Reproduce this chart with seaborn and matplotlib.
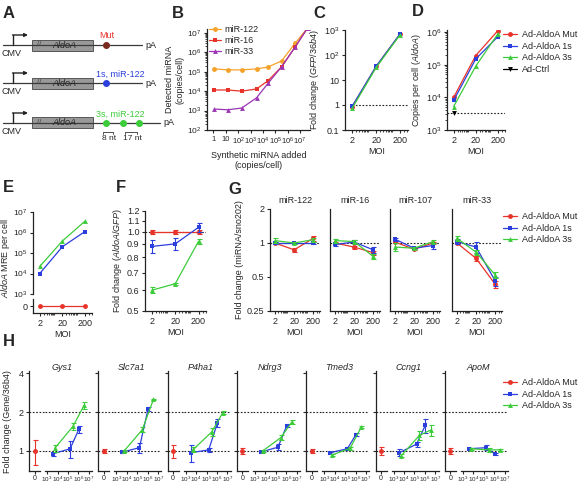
import matplotlib
matplotlib.use("Agg")
import numpy as np
import pandas as pd
import matplotlib.pyplot as plt
import seaborn as sns
from matplotlib.lines import Line2D
from matplotlib.patches import Rectangle
from matplotlib.ticker import NullFormatter, NullLocator

W, H = 578, 483

# ---- data ----
moi = [2, 20, 200]
groups = ["Ad-AldoA Mut", "Ad-AldoA 1s", "Ad-AldoA 3s"]

# B: synthetic miRNA titration
b_labels = ["miR-122", "miR-16", "miR-33"]
synthetic_added = [1.2, 14, 190, 3e3, 2.5e4, 3.2e5, 4e6, 4e7]
mir122_detected = [1.4e5, 1.25e5, 1.25e5, 1.4e5, 1.75e5, 3.6e5, 3.0e6, 1.8e7]
mir16_detected = [1.15e4, 1.15e4, 1.0e4, 1.3e4, 3.4e4, 1.8e5, 1.9e6, 1.8e7]
mir33_detected = [1.2e3, 1.1e3, 1.35e3, 4.5e3, 2.5e4, 1.8e5, 1.9e6, 1.8e7]
b_xticklabels = ["1", "10", "$10^2$", "$10^3$", "$10^4$", "$10^5$", "$10^6$", "$10^7$"]

# C: GFP/36b4 fold change
c_fold_mut = [0.85, 35, 700]
c_fold_1s = [0.9, 36, 720]
c_fold_3s = [0.75, 32, 660]

# D: AldoA copies per cell
d_copies_mut = [1.0e4, 1.9e5, 1.1e6]
d_copies_1s = [8.0e3, 1.5e5, 7.2e5]
d_copies_3s = [5.2e3, 9.0e4, 8.8e5]
d_copies_ctrl = [3.3e3]

# E: AldoA MRE per cell
e_mre_mut = [0, 0, 0]
e_mre_1s = [1.0e4, 2.0e5, 1.1e6]
e_mre_3s = [2.2e4, 3.8e5, 3.5e6]

# F: AldoA/GFP fold change
f_fold_mut = [1.0, 1.0, 1.0]
f_err_mut = [0.02, 0.02, 0.02]
f_fold_1s = [0.88, 0.90, 1.04]
f_err_1s = [0.05, 0.05, 0.04]
f_fold_3s = [0.60, 0.635, 0.92]
f_err_3s = [0.015, 0.005, 0.02]

# G: miRNA/sno202 fold change
g_mirs = ["miR-122", "miR-16", "miR-107", "miR-33"]
g_fold_mut = [[1.0, 0.87, 1.10], [1.0, 0.92, 0.82], [1.02, 0.88, 1.0], [1.0, 0.73, 0.43]]
g_err_mut = [[0.02, 0.04, 0.06], [0.02, 0.03, 0.03], [0.02, 0.02, 0.03], [0.03, 0.04, 0.03]]
g_fold_1s = [[1.0, 1.0, 1.0], [0.97, 1.02, 0.87], [1.08, 0.9, 0.95], [1.03, 0.92, 0.46]]
g_err_1s = [[0.03, 0.02, 0.02], [0.03, 0.04, 0.05], [0.03, 0.02, 0.06], [0.06, 0.1, 0.04]]
g_fold_3s = [[1.05, 1.0, 1.07], [1.05, 1.03, 0.76], [0.92, 0.9, 1.03], [1.1, 0.83, 0.52]]
g_err_3s = [[0.05, 0.02, 0.04], [0.04, 0.03, 0.04], [0.07, 0.02, 0.03], [0.05, 0.04, 0.03]]

# H: target gene/36b4 fold change vs MRE per cell
h_genes = ["Gys1", "Slc7a1", "P4ha1", "Ndrg3", "Tmed3", "Ccng1", "ApoM"]
h_mre_1s = [3.6e3, 1.6e5, 1.1e6]
h_mre_3s = [5.5e3, 3.0e5, 3.5e6]
h_fold_mut = [1.0, 1.0, 1.0, 1.0, 1.0, 1.0, 1.0]
h_err_mut = [0.22, 0.04, 0.12, 0.05, 0.03, 0.07, 0.05]
h_fold_1s = [[0.95, 1.04, 1.47], [0.98, 1.06, 2.12], [0.97, 1.02, 1.65], [0.98, 1.07, 1.57],
             [0.97, 1.04, 1.34], [0.97, 1.13, 1.58], [1.04, 1.06, 0.95]]
h_err_1s = [[0.04, 0.15, 0.1], [0.02, 0.1, 0.08], [0.15, 0.03, 0.12], [0.02, 0.06, 0.05],
            [0.02, 0.03, 0.03], [0.06, 0.05, 0.2], [0.02, 0.05, 0.02]]
h_fold_3s = [[1.05, 1.55, 2.25], [1.0, 1.46, 2.5], [1.03, 1.4, 1.97], [1.0, 1.27, 1.68],
             [0.93, 1.05, 1.53], [0.92, 1.32, 1.45], [1.04, 1.02, 1.02]]
h_err_3s = [[0.06, 0.1, 0.13], [0.02, 0.06, 0.03], [0.05, 0.1, 0.05], [0.02, 0.05, 0.06],
            [0.02, 0.03, 0.02], [0.02, 0.1, 0.15], [0.02, 0.03, 0.02]]

RED, BLUE, GREEN = "#e8332a", "#2b3fdc", "#3ccc3a"
colors = {"Ad-AldoA Mut": RED, "Ad-AldoA 1s": BLUE, "Ad-AldoA 3s": GREEN, "Ad-Ctrl": "black"}
markers = {"Ad-AldoA Mut": "o", "Ad-AldoA 1s": "s", "Ad-AldoA 3s": "^", "Ad-Ctrl": "v"}

sns.set_style("ticks")
plt.rcParams.update({
    "font.family": ["Liberation Sans", "DejaVu Sans"],
    "font.size": 6.5,
    "axes.linewidth": 0.9,
    "axes.edgecolor": "#222222",
    "xtick.major.size": 2.5, "ytick.major.size": 2.5,
    "xtick.minor.size": 1.3, "ytick.minor.size": 1.3,
    "xtick.major.width": 0.8, "ytick.major.width": 0.8,
    "xtick.minor.width": 0.6, "ytick.minor.width": 0.6,
    "xtick.major.pad": 1.5, "ytick.major.pad": 1.5,
    "xtick.labelsize": 6.5, "ytick.labelsize": 6.5,
    "axes.labelsize": 6.5, "axes.titlesize": 6.5,
    "axes.labelpad": 2,
    "mathtext.fontset": "custom",
    "mathtext.rm": "Liberation Sans",
    "mathtext.it": "Liberation Sans:italic",
    "mathtext.bf": "Liberation Sans:bold",
})

fig = plt.figure(figsize=(W / 100, H / 100), dpi=100)


def add_ax(l, t, r, b):
    ax = fig.add_axes([l / W, 1 - b / H, (r - l) / W, (b - t) / H])
    sns.despine(ax=ax)
    return ax


def draw(ax, x, y, color, marker, err=None, ms=3.5):
    df = pd.DataFrame({"x": x, "y": y})
    sns.lineplot(data=df, x="x", y="y", ax=ax, color=color, marker=marker, markersize=ms,
                 markeredgewidth=0, linewidth=0.9, legend=False, errorbar=None)
    if err is not None:
        ax.errorbar(x, y, yerr=err, fmt="none", ecolor=color, elinewidth=0.8,
                    capsize=1.8, capthick=0.8)
    ax.set_xlabel("")
    ax.set_ylabel("")


def moi_axis(ax, xlim=(1, 420)):
    ax.set_xlim(*xlim)
    ax.set_xticks(moi)
    ax.set_xticklabels([str(m) for m in moi])
    ax.xaxis.set_minor_formatter(NullFormatter())
    ax.set_xlabel("MOI", labelpad=2)


def dashed(ax, y, **kw):
    ax.axhline(y, color="#222222", lw=0.8, ls=(0, (1.5, 1.5)), zorder=0.5, **kw)


def legend_at(x, y, names):
    handles = [Line2D([0], [0], color=colors[n], marker=markers[n], markersize=3.5,
                      markeredgewidth=0, lw=0.9) for n in names]
    fig.legend(handles, names, loc="upper left", bbox_to_anchor=(x / W, 1 - y / H),
               frameon=False, fontsize=6.5, handlelength=1.6, handletextpad=0.5,
               labelspacing=0.3, borderaxespad=0, borderpad=0)


def letter(x, y, s):
    fig.text(x / W, 1 - y / H, s, fontsize=12, fontweight="bold", va="center", ha="left")


# ---- A: construct schematic ----
axA = fig.add_axes([0, 1 - 150 / H, 175 / W, 150 / H])
axA.set_xlim(0, 175)
axA.set_ylim(150, 0)
axA.axis("off")
a_rows = [(45, 142, [106], "#7a2a1e", RED, "Mut"),
          (83, 142, [106], BLUE, BLUE, "1s, miR-122"),
          (123, 160, [106, 123, 139], GREEN, GREEN, "3s, miR-122")]
for y, xend, sites, dotc, txtc, lab in a_rows:
    axA.plot([3, xend], [y, y], color="#3a3a3a", lw=0.9)
    axA.plot([13, 13], [y, y - 10], color="#222222", lw=1.0)
    axA.annotate("", xy=(28, y - 10), xytext=(12.5, y - 10),
                 arrowprops=dict(arrowstyle="-|>", color="#222222", lw=1.0,
                                 mutation_scale=5, shrinkA=0, shrinkB=0))
    axA.add_patch(Rectangle((32, y - 5.5), 61, 11, facecolor="#999999",
                            edgecolor="#444444", lw=0.6))
    axA.text(39, y, "//", fontsize=5.5, color="#444444", ha="center", va="center")
    axA.text(64, y, "AldoA", fontsize=6.5, style="italic", color="#222222",
             ha="center", va="center")
    axA.text(12, y + 9, "CMV", fontsize=6.5, ha="center", va="center")
    axA.text(xend + 3, y, "pA", fontsize=6.5, ha="left", va="center")
    axA.plot(sites, [y] * len(sites), "o", color=dotc, markersize=4)
    cx = 107 if lab == "Mut" else 120
    axA.text(cx, y - 9, lab, fontsize=6.5, color=txtc, ha="center", va="center")
for x0, x1, s in [(103, 113, "8 nt"), (125, 137, "17 nt")]:
    axA.plot([x0, x0, x1, x1], [134, 132, 132, 134], color="#333333", lw=0.6)
    axA.text((x0 + x1) / 2 + 1, 139, s, fontsize=6, ha="center", va="center")

# ---- B ----
axB = add_ax(207, 29.5, 310, 130)
axB.set_xscale("log")
axB.set_yscale("log")
b_colors = ["#f5a22a", RED, "#9b35b5"]
b_markers = ["o", "s", "^"]
for vals, c, m in zip([mir122_detected, mir16_detected, mir33_detected], b_colors, b_markers):
    draw(axB, synthetic_added, vals, c, m)
axB.set_xlim(0.3, 6.3e7)
axB.set_ylim(1e2, 1.5e7)
axB.set_xticks([10.0 ** k for k in range(8)])
axB.set_xticklabels(b_xticklabels, fontsize=5.5)
axB.xaxis.set_minor_locator(NullLocator())
axB.set_yticks([10.0 ** k for k in range(2, 8)])
axB.tick_params(axis="y", labelsize=6)
axB.set_xlabel("Synthetic miRNA added\n(copies/cell)", labelpad=3)
axB.set_ylabel("Detected miRNA\n(copies/cell)", labelpad=2)
hB = [Line2D([0], [0], color=c, marker=m, markersize=3.5, markeredgewidth=0, lw=0.9)
      for c, m in zip(b_colors, b_markers)]
axB.legend(hB, b_labels, loc="upper left", bbox_to_anchor=(0.02, 1.04), frameon=False,
           fontsize=6.5, handlelength=1.3, handletextpad=0.4, labelspacing=0.2,
           borderaxespad=0, borderpad=0)

# ---- C ----
axC = add_ax(345, 30, 408, 130)
axC.set_xscale("log")
axC.set_yscale("log")
for g, vals in zip(groups, [c_fold_mut, c_fold_1s, c_fold_3s]):
    draw(axC, moi, vals, colors[g], markers[g])
axC.hlines(1, 2, 420, color="#222222", lw=0.8, ls=(0, (1.5, 1.5)), zorder=0.5)
axC.set_ylim(0.1, 1000)
axC.set_yticks([0.1, 1, 10, 100, 1000])
axC.set_yticklabels(["0.1", "1", "10", "$10^2$", "$10^3$"])
axC.yaxis.set_minor_locator(NullLocator())
moi_axis(axC)
axC.set_ylabel(r"Fold change ($\it{GFP/36b4}$)")

# ---- D ----
axD = add_ax(447, 30, 505, 130)
axD.set_xscale("log")
axD.set_yscale("log")
for g, vals in zip(groups, [d_copies_mut, d_copies_1s, d_copies_3s]):
    draw(axD, moi, vals, colors[g], markers[g])
draw(axD, moi[:1], d_copies_ctrl, "black", "v")
dashed(axD, d_copies_ctrl[0])
axD.set_ylim(1e3, 1.15e6)
axD.set_yticks([1e3, 1e4, 1e5, 1e6])
moi_axis(axD)
axD.set_ylabel(r"Copies per cell ($\it{AldoA}$)")
legend_at(503, 30, groups + ["Ad-Ctrl"])

# ---- E (broken y axis) ----
axE = add_ax(33, 212, 92, 294)
axE.set_xscale("log")
axE.set_yscale("log")
draw(axE, moi, e_mre_1s, BLUE, "s")
draw(axE, moi, e_mre_3s, GREEN, "^")
axE.set_xlim(1, 420)
axE.set_ylim(1e3, 1e7)
axE.set_yticks([1e3, 1e4, 1e5, 1e6, 1e7])
axE.tick_params(axis="y", labelsize=6)
axE.spines["bottom"].set_visible(False)
axE.tick_params(axis="x", which="both", bottom=False, labelbottom=False)
for ln in axE.lines:
    ln.set_clip_on(False)
axE2 = add_ax(33, 299, 92, 313)
axE2.set_xscale("log")
draw(axE2, moi, e_mre_mut, RED, "o")
axE2.set_ylim(-1, 1)
axE2.set_yticks([0])
axE2.set_yticklabels(["0"])
moi_axis(axE2)
fig.text(6 / W, 1 - 258 / H, r"$\it{AldoA}$ MRE per cell", rotation=90,
         ha="center", va="center", fontsize=6.5)

# ---- F ----
axF = add_ax(145, 211, 206, 311)
axF.set_xscale("log")
axF.set_yscale("log", base=2)
for g, vals, err in zip(groups, [f_fold_mut, f_fold_1s, f_fold_3s], [f_err_mut, f_err_1s, f_err_3s]):
    draw(axF, moi, vals, colors[g], markers[g], err=err)
dashed(axF, 1)
axF.set_ylim(0.5, 1.2)
f_ticks = [0.5, 0.6, 0.7, 0.8, 0.9, 1.0, 1.1, 1.2]
axF.set_yticks(f_ticks)
axF.set_yticklabels([f"{t:.1f}" for t in f_ticks])
axF.yaxis.set_minor_locator(NullLocator())
moi_axis(axF)
axF.set_ylabel(r"Fold change ($\it{AldoA/GFP}$)")

# ---- G ----
g_left = [270, 330, 390, 452]
for i, name in enumerate(g_mirs):
    ax = add_ax(g_left[i], 209, g_left[i] + 50, 311)
    ax.set_xscale("log")
    ax.set_yscale("log", base=2)
    for g, vals, err in zip(groups, [g_fold_mut, g_fold_1s, g_fold_3s], [g_err_mut, g_err_1s, g_err_3s]):
        draw(ax, moi, vals[i], colors[g], markers[g], err=err[i])
    dashed(ax, 1)
    ax.set_ylim(0.25, 2)
    ax.set_yticks([0.25, 0.5, 1, 2])
    ax.yaxis.set_minor_locator(NullLocator())
    if i == 0:
        ax.set_yticklabels(["0.25", "0.5", "1", "2"])
        ax.set_ylabel("Fold change (miRNA/sno202)")
    else:
        ax.tick_params(axis="y", left=False, labelleft=False)
    moi_axis(ax, xlim=(1.1, 450))
    ax.set_title(name, pad=4)
legend_at(503, 212, groups)

# ---- H (broken x axis) ----
h_top, h_bot = 371, 471
h_xticklabels = ["$10^3$", "$10^4$", "$10^5$", "$10^6$", "$10^7$"]
for i, gene in enumerate(h_genes):
    s = 29 + i * 69.3
    a0 = add_ax(s, h_top, s + 11, h_bot)
    a1 = add_ax(s + 16, h_top, s + 63, h_bot)
    a0.set_yscale("log", base=2)
    a1.set_yscale("log", base=2)
    a1.set_xscale("log")
    draw(a0, [0], [h_fold_mut[i]], RED, "o", err=[h_err_mut[i]])
    draw(a1, h_mre_1s, h_fold_1s[i], BLUE, "s", err=h_err_1s[i])
    draw(a1, h_mre_3s, h_fold_3s[i], GREEN, "^", err=h_err_3s[i])
    for a in (a0, a1):
        a.set_ylim(0.7, 4.15)
        a.yaxis.set_minor_locator(NullLocator())
        a.tick_params(axis="x", which="major", length=2, pad=1)
    for y in (1, 2):
        a0.axhline(y, xmax=1.5, clip_on=False, color="#222222", lw=0.8,
                   ls=(0, (1.5, 1.5)), zorder=0.5)
        dashed(a1, y)
    a0.set_xlim(-1, 1)
    a0.set_xticks([0])
    a0.set_xticklabels(["0"], fontsize=5)
    a0.set_yticks([1, 2, 4])
    if i == 0:
        a0.set_yticklabels(["1", "2", "4"])
    else:
        a0.set_yticklabels([])
    a1.set_xlim(10 ** 2.8, 10 ** 7.3)
    a1.set_xticks([1e3, 1e4, 1e5, 1e6, 1e7])
    a1.set_xticklabels(h_xticklabels, fontsize=4.5)
    a1.xaxis.set_minor_formatter(NullFormatter())
    a1.spines["left"].set_visible(False)
    a1.tick_params(axis="y", which="both", left=False, labelleft=False)
    fig.text((s + 33) / W, 1 - (h_top - 4) / H, gene, style="italic", ha="center",
             va="center", fontsize=6.5)
fig.text(8 / W, 1 - 422 / H, "Fold change (Gene/36b4)", rotation=90, ha="center",
         va="center", fontsize=6.5)
legend_at(503, 378, groups)

for x, y, s in [(3, 13, "A"), (172, 13, "B"), (313, 13, "C"), (412, 12, "D"),
                (3, 188, "E"), (116, 188, "F"), (228, 190, "G"), (3, 342, "H")]:
    letter(x, y, s)

fig.savefig("out.png", dpi=100)
